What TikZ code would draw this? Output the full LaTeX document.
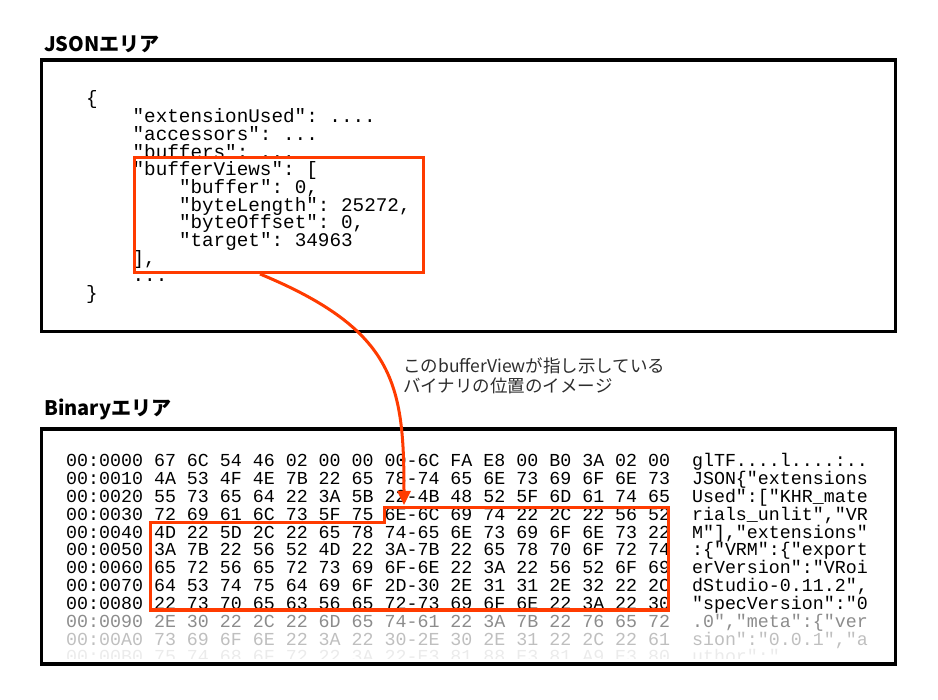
\documentclass[tikz,border=0pt]{standalone}
\usepackage{fontspec}
\usepackage{xcolor}
\newfontfamily\cjk{Noto Sans CJK JP}
\newfontfamily\codefont{Liberation Mono}
\usetikzlibrary{arrows.meta}
\definecolor{hlred}{RGB}{255,59,0}
\definecolor{notegray}{RGB}{45,45,45}
\frenchspacing

\begin{document}
\begin{tikzpicture}[
    x=1pt, y=-1pt,
    areabox/.style={draw=black, line width=3.5pt, inner sep=0pt},
    areatitle/.style={anchor=base west, inner sep=0pt, font=\cjk\bfseries\fontsize{20}{24}\selectfont},
    jsonline/.style={anchor=base west, inner sep=0pt, font=\codefont\fontsize{19.3}{19.3}\selectfont},
    hexline/.style={anchor=base west, inner sep=0pt, font=\codefont\fontsize{18.3}{18.3}\selectfont},
    notetext/.style={anchor=base west, inner sep=0pt, text=notegray, font=\cjk\fontsize{17.5}{20}\selectfont},
    hilite/.style={draw=hlred, line width=3pt},
    arr/.style={-{Triangle[length=14pt,width=13pt]}, draw=hlred, line width=3pt}
]
\useasboundingbox (0,0) rectangle (938,700);

% titles and area frames
\node[areatitle] (jsontitle) at (44,52) {JSONエリア};
\node[areatitle] (bintitle) at (44,416) {Binaryエリア};
\node[areabox, minimum width=854pt, minimum height=271.5pt] (jsonarea) at (468.5,195.75) {};
\node[areabox, minimum width=854pt, minimum height=235pt] (binarea) at (468.5,546.5) {};

% JSON text
\node[jsonline] (j0)  at (86,105)   {\{};
\node[jsonline] (j1)  at (132.4,122.7) {"extensionUsed": ....};
\node[jsonline] (j2)  at (132.4,140.4) {"accessors": ...};
\node[jsonline] (j3)  at (132.4,158.1) {"buffers": ...};
\node[jsonline] (j4)  at (132.4,175.8) {"bufferViews": [};
\node[jsonline] (j5)  at (178.8,193.5) {"buffer": 0,};
\node[jsonline] (j6)  at (178.8,211.2) {"byteLength": 25272,};
\node[jsonline] (j7)  at (178.8,228.9) {"byteOffset": 0,};
\node[jsonline] (j8)  at (178.8,246.6) {"target": 34963};
\node[jsonline] (j9)  at (132.4,264.3) {],};
\node[jsonline] (j10) at (132.4,282)   {...};
\node[jsonline] (j11) at (86,299.7)   {\}};

% hex dump
\begin{scope}
\clip (43.5,431) rectangle (893.5,658);
\node[hexline] (r00) at (66,467)   {00:0000 67 6C 54 46 02 00 00 00-6C FA E8 00 B0 3A 02 00 \ glTF....l....:..};
\node[hexline] (r10) at (66,484.8) {00:0010 4A 53 4F 4E 7B 22 65 78-74 65 6E 73 69 6F 6E 73 \ JSON\{"extensions};
\node[hexline] (r20) at (66,502.6) {00:0020 55 73 65 64 22 3A 5B 22-4B 48 52 5F 6D 61 74 65 \ Used":["KHR\_mate};
\node[hexline] (r30) at (66,520.4) {00:0030 72 69 61 6C 73 5F 75 6E-6C 69 74 22 2C 22 56 52 \ rials\_unlit","VR};
\node[hexline] (r40) at (66,538.2) {00:0040 4D 22 5D 2C 22 65 78 74-65 6E 73 69 6F 6E 73 22 \ M"],"extensions"};
\node[hexline] (r50) at (66,556)   {00:0050 3A 7B 22 56 52 4D 22 3A-7B 22 65 78 70 6F 72 74 \ :\{"VRM":\{"export};
\node[hexline] (r60) at (66,573.8) {00:0060 65 72 56 65 72 73 69 6F-6E 22 3A 22 56 52 6F 69 \ erVersion":"VRoi};
\node[hexline] (r70) at (66,591.6) {00:0070 64 53 74 75 64 69 6F 2D-30 2E 31 31 2E 32 22 2C \ dStudio-0.11.2",};
\node[hexline] (r80) at (66,609.4) {00:0080 22 73 70 65 63 56 65 72-73 69 6F 6E 22 3A 22 30 \ "specVersion":"0};
\node[hexline, text=black!45] (r90) at (66,627.2) {00:0090 2E 30 22 2C 22 6D 65 74-61 22 3A 7B 22 76 65 72 \ .0","meta":\{"ver};
\node[hexline, text=black!25] (rA0) at (66,645)   {00:00A0 73 69 6F 6E 22 3A 22 30-2E 30 2E 31 22 2C 22 61 \ sion":"0.0.1","a};
\node[hexline, text=black!8] (rB0) at (66,662.8) {00:00B0 75 74 68 6F 72 22 3A 22-E3 81 88 E3 81 A9 E3 80 \ uthor":"........};
\end{scope}

% highlights
\node[hilite, minimum width=289pt, minimum height=115pt, inner sep=0pt] (bv) at (279,215) {};
\draw[hilite] (384,507.5) -- (668.3,507.5) -- (668.3,610) -- (150.7,610)
    -- (150.7,523) -- (384,523) -- cycle;

% note and arrow
\node[notetext] (note1) at (403,373) {このbufferViewが指し示している};
\node[notetext] (note2) at (403,393) {バイナリの位置のイメージ};
\coordinate (dst) at (404,505);
\draw[arr] ([xshift=-19pt]bv.south) .. controls (395,330) and (404,384) .. (dst);
\end{tikzpicture}
\end{document}
